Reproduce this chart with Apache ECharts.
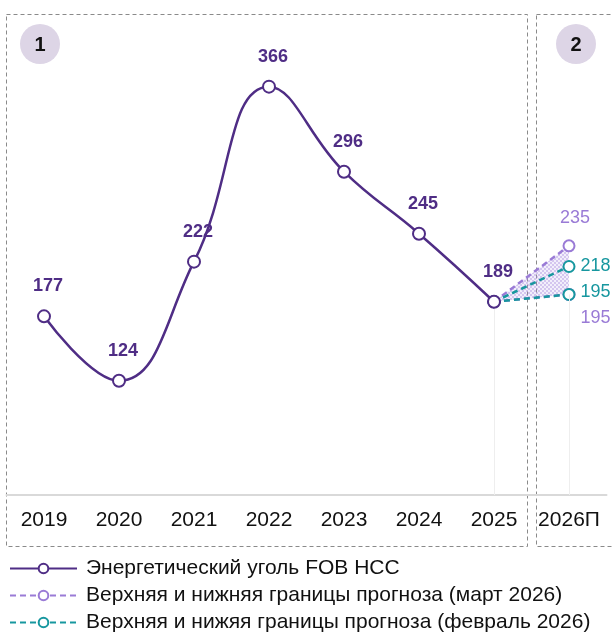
<!DOCTYPE html>
<html>
<head>
<meta charset="utf-8">
<script src="https://cdn.jsdelivr.net/npm/echarts@6/dist/echarts.min.js"></script>
<style>
  html, body { margin: 0; padding: 0; background: #fff; }
  #chart { width: 613px; height: 635px; }
</style>
</head>
<body>
<div id="chart"></div>
<script>
// data
const years = ['2019', '2020', '2021', '2022', '2023', '2024', '2025', '2026П']
const coalFob = [177, 124, 222, 366, 296, 245, 189, null]
const marchUpper = [null, null, null, null, null, null, 189, 235]
const marchLower = [null, null, null, null, null, null, 189, 195]
const febUpper = [null, null, null, null, null, null, 189, 218]
const febLower = [null, null, null, null, null, null, 189, 195]

const nameMain = 'Энергетический уголь FOB НСС'
const nameMarch = 'Верхняя и нижняя границы прогноза (март 2026)'
const nameFeb = 'Верхняя и нижяя границы прогноза (февраль 2026)'

const cMain = '#4f2d85'
const cMarch = '#9a7bd6'
const cFeb = '#17979f'

// band between the march bounds
const bandBase = marchLower.slice()
const bandDiff = marchUpper.map((v, i) => (v == null ? null : v - marchLower[i]))

// small checker pattern for the hatched band
const pat = document.createElement('canvas')
pat.width = 4
pat.height = 4
const pctx = pat.getContext('2d')
pctx.fillStyle = 'rgba(175,150,228,0.22)'
pctx.fillRect(0, 0, 4, 4)
pctx.fillStyle = 'rgba(160,130,220,0.55)'
pctx.fillRect(0, 0, 2, 2)
pctx.fillRect(2, 2, 2, 2)

const chart = echarts.init(document.getElementById('chart'))

const font = 'Liberation Sans, Arial, sans-serif'

function forecast(name, data, color, labels) {
  return {
    name: name,
    type: 'line',
    data: data.map((v, i) => {
      if (v == null) return null
      const o = { value: v }
      if (labels[i]) o.label = labels[i]
      else o.label = { show: false }
      return o
    }),
    symbol: 'emptyCircle',
    symbolSize: 11,
    z: 3,
    lineStyle: { color: color, width: 2.5, type: [6, 4] },
    itemStyle: { color: color, borderColor: color, borderWidth: 2.5 },
    label: { show: true, color: color, fontSize: 18, fontFamily: font }
  }
}

chart.setOption({
  animation: false,
  textStyle: { fontFamily: font },
  grid: { left: 6.5, right: 6.5, top: 21, bottom: 140 },
  xAxis: {
    type: 'category',
    data: years,
    boundaryGap: true,
    axisLine: { lineStyle: { color: '#d9d9d9', width: 2 } },
    axisTick: { show: false },
    axisLabel: { color: '#111', fontSize: 21, margin: 15, interval: 0 },
    splitLine: { show: false }
  },
  yAxis: {
    type: 'value',
    min: 30,
    max: 420,
    show: false,
    splitLine: { show: false }
  },
  legend: {
    orient: 'vertical',
    left: 9,
    top: 558,
    padding: 0,
    itemGap: 6,
    itemWidth: 67,
    itemHeight: 12,
    data: [nameMain, nameMarch, nameFeb],
    textStyle: { color: '#111', fontSize: 21, padding: [0, 0, 0, 4] }
  },
  graphic: [
    { type: 'rect', shape: { x: 6.5, y: 14.5, width: 521, height: 532 },
      style: { fill: 'none', stroke: '#8a8a8a', lineWidth: 1, lineDash: [4, 3] }, z: 0 },
    { type: 'rect', shape: { x: 536.5, y: 14.5, width: 90, height: 532 },
      style: { fill: 'none', stroke: '#8a8a8a', lineWidth: 1, lineDash: [4, 3] }, z: 0 },
    { type: 'circle', shape: { cx: 40, cy: 44, r: 20 }, style: { fill: '#ddd5e6' }, z: 1 },
    { type: 'text', x: 40, y: 45, style: { text: '1', font: 'bold 20px ' + font, fill: '#111', align: 'center', verticalAlign: 'middle' }, z: 2 },
    { type: 'circle', shape: { cx: 576, cy: 44, r: 20 }, style: { fill: '#ddd5e6' }, z: 1 },
    { type: 'text', x: 576, y: 45, style: { text: '2', font: 'bold 20px ' + font, fill: '#111', align: 'center', verticalAlign: 'middle' }, z: 2 }
  ],
  series: [
    {
      name: 'band-base',
      type: 'line',
      stack: 'band',
      data: bandBase,
      symbol: 'none',
      lineStyle: { opacity: 0 },
      silent: true,
      z: 1
    },
    {
      name: 'band-diff',
      type: 'line',
      stack: 'band',
      data: bandDiff,
      symbol: 'none',
      lineStyle: { opacity: 0 },
      areaStyle: { color: { image: pat, repeat: 'repeat' } },
      silent: true,
      z: 1
    },
    forecast(nameMarch, marchUpper, cMarch, {
      7: { show: true, position: 'top', distance: 12, offset: [6, 0] }
    }),
    forecast(nameMarch, marchLower, cMarch, {
      7: { show: true, position: 'right', distance: 5, offset: [0, 24] }
    }),
    forecast(nameFeb, febUpper, cFeb, {
      7: { show: true, position: 'right', distance: 5 }
    }),
    forecast(nameFeb, febLower, cFeb, {
      7: { show: true, position: 'right', distance: 5, offset: [0, -2] }
    }),
    {
      name: nameMain,
      type: 'line',
      data: coalFob,
      smooth: 0.45,
      symbol: 'emptyCircle',
      symbolSize: 12,
      z: 5,
      lineStyle: { color: cMain, width: 2.5 },
      itemStyle: { color: cMain, borderColor: cMain, borderWidth: 2.5 },
      label: {
        show: true,
        position: 'top',
        distance: 14,
        offset: [4, 0],
        color: cMain,
        fontSize: 18,
        fontWeight: 'bold'
      },
      markLine: {
        silent: true,
        symbol: 'none',
        label: { show: false },
        lineStyle: { color: '#eeeeee', width: 1, type: 'solid' },
        data: [
          [{ coord: ['2025', 189] }, { coord: ['2025', 30] }],
          [{ coord: ['2026П', 195] }, { coord: ['2026П', 30] }]
        ]
      }
    }
  ]
})
</script>
</body>
</html>
